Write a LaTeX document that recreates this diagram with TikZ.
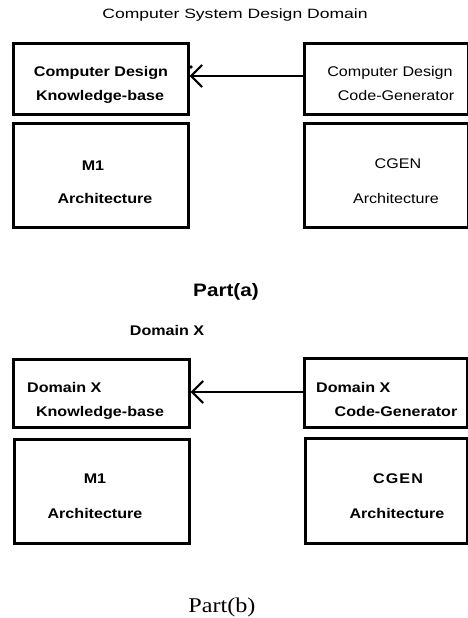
\documentclass[tikz,border=0pt]{standalone}
\usepackage{fontspec}
\usetikzlibrary{arrows.meta}
\newfontfamily\sansf[FakeStretch=1.15]{Liberation Sans}
\newfontfamily\titlef[FakeStretch=1.3]{Liberation Sans}
\newfontfamily\seriff[FakeStretch=1.15]{Liberation Serif}
\tikzset{
  box/.style={draw, line width=2.6pt, inner sep=0pt, anchor=north west},
  txt/.style={font=\sansf\fontsize{14}{16}\selectfont, inner sep=0pt, anchor=base},
  btxt/.style={font=\sansf\bfseries\fontsize{14}{16}\selectfont, inner sep=0pt, anchor=base},
  arr/.style={line width=2.2pt, -{Straight Barb[length=11pt,width=22pt,line width=2.2pt]}}
}
\begin{document}
\begin{tikzpicture}[x=1pt,y=-1pt]
\useasboundingbox (0,0) rectangle (468,618);
% Part (a)
\node[inner sep=0pt, anchor=base, font=\titlef\fontsize{13.5}{15}\selectfont] (title) at (235,19) {Computer System Design Domain};
\node[box, minimum width=175pt, minimum height=71pt] (kb) at (12,42) {};
\node[box, minimum width=164pt, minimum height=71pt] (cg) at (303,42) {};
\node[box, minimum width=175pt, minimum height=104pt] (m1) at (12,122) {};
\node[box, minimum width=164pt, minimum height=104pt] (cgen) at (303,122) {};
\node[btxt] (kbt1) at (101,77) {Computer Design};
\node[btxt] (kbt2) at (100,100) {Knowledge-base};
\node[txt] (cgt1) at (390,77) {Computer Design};
\node[txt] (cgt2) at (396,100) {Code-Generator};
\node[btxt] (m1t1) at (93,170) {M1};
\node[btxt] (m1t2) at (105,203) {Architecture};
\node[txt] (cgent1) at (398,168) {CGEN};
\node[txt] (cgent2) at (396,203) {Architecture};
\draw[arr] (cg.west |- 0,76) -- (kb.east |- 0,76);
\fill (191,67) circle (1.8pt);
\node[inner sep=0pt, anchor=base, font=\sansf\bfseries\fontsize{18}{20}\selectfont] (parta) at (226,296) {Part(a)};
% Part (b)
\node[btxt] (domx) at (167,335) {Domain X};
\node[box, minimum width=176pt, minimum height=68pt] (kb2) at (12,358) {};
\node[box, minimum width=163pt, minimum height=69pt] (cg2) at (303,357) {};
\node[box, minimum width=175pt, minimum height=104pt] (m12) at (13,438) {};
\node[box, minimum width=162pt, minimum height=105pt] (cgen2) at (304,437) {};
\node[btxt, anchor=base west] (kb2t1) at (27,392) {Domain X};
\node[btxt] (kb2t2) at (100,416) {Knowledge-base};
\node[btxt, anchor=base west] (cg2t1) at (316,392) {Domain X};
\node[btxt] (cg2t2) at (396,416) {Code-Generator};
\node[btxt] (m12t1) at (95,483) {M1};
\node[btxt] (m12t2) at (95,518) {Architecture};
\node[btxt, font=\sansf\bfseries\fontsize{14}{16}\addfontfeature{LetterSpace=8}\selectfont] (cgen2t1) at (398,483) {CGEN};
\node[btxt] (cgen2t2) at (397,518) {Architecture};
\draw[arr] (cg2.west |- 0,392) -- (kb2.east |- 0,392);
\node[inner sep=0pt, anchor=base, font=\seriff\fontsize{21}{24}\selectfont] (partb) at (222,612) {Part(b)};
\end{tikzpicture}
\end{document}
